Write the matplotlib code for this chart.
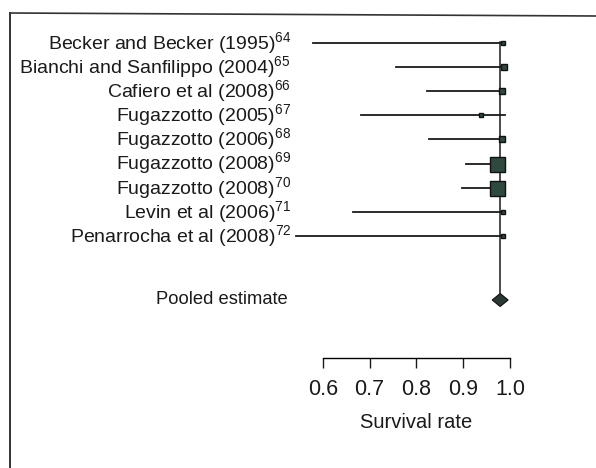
import matplotlib
matplotlib.use("Agg")
import matplotlib.pyplot as plt

studies = [
    r"Becker and Becker (1995)$^{64}$",
    r"Bianchi and Sanfilippo (2004)$^{65}$",
    r"Cafiero et al (2008)$^{66}$",
    r"Fugazzotto (2005)$^{67}$",
    r"Fugazzotto (2006)$^{68}$",
    r"Fugazzotto (2008)$^{69}$",
    r"Fugazzotto (2008)$^{70}$",
    r"Levin et al (2006)$^{71}$",
    r"Penarrocha et al (2008)$^{72}$",
]
estimate = [0.985, 0.987, 0.983, 0.937, 0.983, 0.973, 0.973, 0.985, 0.985]
lower = [0.580, 0.756, 0.822, 0.682, 0.826, 0.907, 0.898, 0.664, 0.544]
upper = [0.990, 0.990, 0.990, 0.990, 0.990, 0.985, 0.985, 0.990, 0.990]
weight = [0.05, 0.25, 0.3, 0.15, 0.3, 1.0, 1.0, 0.05, 0.05]
pooled_label = "Pooled estimate"
pooled = 0.979
pooled_lo = 0.962
pooled_hi = 0.996
xticks = [0.6, 0.7, 0.8, 0.9, 1.0]
xticklabels = ["0.6", "0.7", "0.8", "0.9", "1.0"]
xlabel = "Survival rate"

fam = ["Liberation Sans"]
plt.rcParams["font.family"] = fam + ["DejaVu Sans"]
plt.rcParams["mathtext.fontset"] = "custom"
plt.rcParams["mathtext.rm"] = fam[0]
plt.rcParams["mathtext.it"] = fam[0]

W, H = 596, 468
fig = plt.figure(figsize=(W / 100, H / 100), dpi=100)
ax = fig.add_axes([0, 0, 1, 1])

# pixel mapping
x06, x10 = 322.7, 510.0
ppu = (x10 - x06) / 0.4
ax.set_xlim(0.6 - x06 / ppu, 0.6 + (W - x06) / ppu)
row0, step = 43.3, 24.05
ax.set_ylim((H - row0) / step, -row0 / step)

ax.patch.set_alpha(0)
for s in ["top", "left", "right"]:
    ax.spines[s].set_visible(False)

n = len(studies)
rows = list(range(n))
pooled_row = (300 - row0) / step
label_x = 0.6 + (291 - x06) / ppu

# vertical reference line
ax.plot([pooled, pooled], [-0.05, pooled_row - 0.3], color="#1a1a1a", lw=1.1, zorder=2)

for i in rows:
    ax.plot([lower[i], upper[i]], [i, i], color="#1a1a1a", lw=1.3, zorder=3)
    ax.plot(estimate[i], i, marker="s", ms=2.0 + 8.8 * weight[i],
            mfc="#2e4a3f", mec="#111111", mew=1.0, zorder=4)
    ax.text(label_x, i, studies[i], ha="right", va="center", fontsize=14, color="#1a1a1a")

ax.fill([pooled_lo, pooled, pooled_hi, pooled],
        [pooled_row, pooled_row - 0.27, pooled_row, pooled_row + 0.27],
        facecolor="#2a3a33", edgecolor="#111111", lw=0.8, zorder=4)
ax.text(label_x - 3 / ppu, pooled_row, pooled_label, ha="right", va="center", fontsize=13.2, color="#1a1a1a")

# bottom axis
axis_row = (358 - row0) / step
ax.spines["bottom"].set_position(("data", axis_row))
ax.spines["bottom"].set_bounds(0.6, 1.0)
ax.spines["bottom"].set_linewidth(1.0)
ax.set_xticks(xticks)
ax.set_xticklabels(xticklabels, fontsize=15.5)
ax.tick_params(axis="x", direction="out", length=7, width=1.0, pad=8, colors="#1a1a1a")
ax.set_yticks([])
ax.text(0.8, (423 - row0) / step, xlabel, ha="center", va="center", fontsize=14.5, color="#1a1a1a")

# page frame lines
fig.add_artist(plt.Line2D([10 / W, 10 / W], [0, 1 - 13 / H], color="#222222", lw=1.3))
fig.add_artist(plt.Line2D([10 / W, 1], [1 - 13 / H, 1 - 16 / H], color="#333333", lw=1.2))

fig.savefig("out.png", dpi=100)
